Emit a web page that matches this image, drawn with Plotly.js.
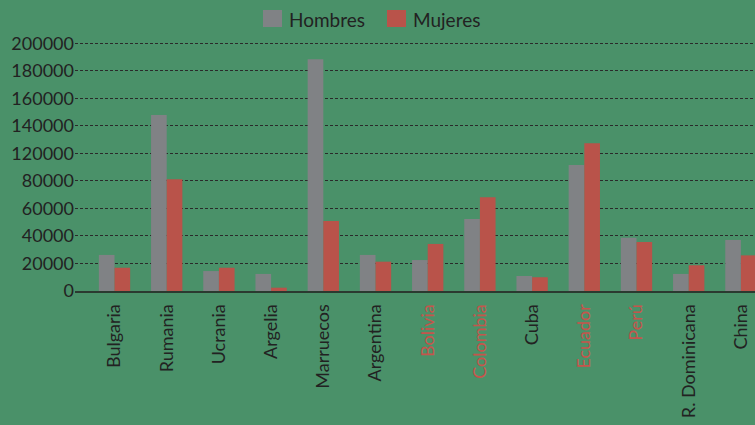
<!DOCTYPE html>
<html>
<head>
<meta charset="utf-8">
<script src="https://cdn.plot.ly/plotly-3.0.1.min.js"></script>
<style>html,body{margin:0;padding:0;background:#4a9169;}#chart{width:755px;height:425px;}</style>
</head>
<body>
<div id="chart"></div>
<script>
const categories = ["Bulgaria","Rumania","Ucrania","Argelia","Marruecos","Argentina","Bolivia","Colombia","Cuba","Ecuador","Perú","R. Dominicana","China"];
const highlighted = ["Bolivia","Colombia","Ecuador","Perú"];
const hombres = [26200, 127900, 14500, 12400, 168400, 26200, 22500, 52300, 10900, 91600, 38700, 12400, 37100];
const mujeres = [16900, 81200, 16900, 2400, 50900, 21300, 34200, 68100, 10000, 107300, 35600, 18700, 25900];
const yTickVals = [0, 20000, 40000, 60000, 80000, 100000, 120000, 140000, 160000, 180000];
const yTickText = ["0", "20000", "40000", "60000", "80000", "120000", "140000", "160000", "180000", "200000"];
const seriesNames = ["Hombres", "Mujeres"];
const seriesColors = ["#808285", "#b9534a"];

const xTickText = categories.map(c => highlighted.includes(c) ? '<span style="color:#c4554c">' + c + '</span>' : c);

const data = [
  {type: 'bar', name: seriesNames[0], x: categories, y: hombres, marker: {color: seriesColors[0]}},
  {type: 'bar', name: seriesNames[1], x: categories, y: mujeres, marker: {color: seriesColors[1]}}
];

// custom legend (larger swatches, as in the reference), placed in container pixels
const H = 425, W = 755;
const legendX = [263, 387];
const shapes = [];
const annotations = [];
seriesNames.forEach((n, i) => {
  shapes.push({type: 'rect', xref: 'paper', yref: 'paper', layer: 'above',
    x0: (legendX[i] - 75) / 680, x1: (legendX[i] + 19 - 75) / 680,
    y0: (291 - 27) / 261, y1: (291 - 10) / 261,
    fillcolor: seriesColors[i], line: {width: 0}});
  annotations.push({xref: 'paper', yref: 'paper', x: (legendX[i] + 24 - 75) / 680, y: (291 - 19) / 261,
    xanchor: 'left', yanchor: 'middle', text: n, showarrow: false,
    font: {size: 19, color: '#222222'}});
});

const layout = {
  width: W, height: H,
  paper_bgcolor: '#4a9169', plot_bgcolor: '#4a9169',
  font: {family: 'Lato, "Open Sans", sans-serif', size: 18, color: '#222222'},
  margin: {l: 75, r: 0, t: 30, b: 134},
  barmode: 'group', bargap: 0.4, bargroupgap: 0,
  showlegend: false,
  shapes: shapes, annotations: annotations,
  xaxis: {
    type: 'category', range: [-0.757, 12.27], tickangle: -90,
    tickvals: categories, ticktext: xTickText,
    showgrid: false, showline: true, linecolor: '#2b3a30', linewidth: 2,
    ticks: '', ticklabelstandoff: 4, tickfont: {size: 18, color: '#222222'}
  },
  yaxis: {
    range: [0, 189660], tickvals: yTickVals, ticktext: yTickText,
    showgrid: true, gridcolor: '#2a2a2a', griddash: '3px,2px', gridwidth: 1,
    zeroline: false, showline: false, ticks: '', tickfont: {size: 18, color: '#222222'}
  }
};

Plotly.newPlot('chart', data, layout, {staticPlot: true, displayModeBar: false});
</script>
</body>
</html>
